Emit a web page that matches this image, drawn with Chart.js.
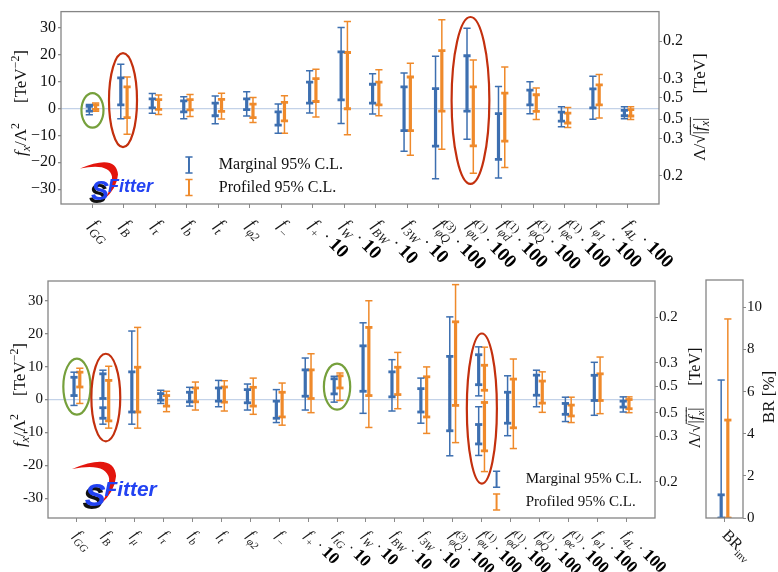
<!DOCTYPE html>
<html><head><meta charset="utf-8">
<script src="https://cdn.jsdelivr.net/npm/chart.js@4.4.1/dist/chart.umd.min.js"></script>
<style>
html,body{margin:0;padding:0;background:#fff;}
#wrap{position:relative;width:778px;height:572px;overflow:hidden;background:#fff;}
.c{position:absolute;}
</style></head><body>
<div id="wrap">
<div class="c" style="left:0;top:0;width:778px;height:270px"><canvas id="top"></canvas></div>
<div class="c" style="left:0;top:270px;width:778px;height:302px"><canvas id="bot"></canvas></div>
<div class="c" style="left:680px;top:270px;width:98px;height:302px"><canvas id="br"></canvas></div>
</div>
<script>
// ---------------- DATA ----------------
// top panel categories (subscript, superscript, multiplier)
const topSubs  = ['GG','B','τ','b','t','φ2','−','+','W','BW','3W','φQ','φu','φd','φQ','φe','φ1','4L'];
const topSups  = ['','','','','','','','','','','','(3)','(1)','(1)','(1)','(1)','',''];
const topMults = ['','','','','','','','10','10','10','10','100','100','100','100','100','100','100'];
// intervals [low, high] per category (TeV^-2)
const topMarginal95 = [[[-2.3,1.5]],[[-3.8,16.4]],[[-1.8,5.6]],[[-3.8,4.4]],[[-5.7,4.6]],[[-2.8,6.2]],[[-9.2,1.7]],[[-1.7,14.0]],[[-5.6,30.1]],[[-2.1,12.9]],[[-15.9,13.2]],[[-26.1,19.4]],[[-11.4,29.8]],[[-25.8,8.2]],[[-1.95,9.9]],[[-6.8,0.6]],[[-4.0,12.0]],[[-3.8,0.6]]];
const topMarginal68 = [[[-1.0,0.8]],[[1.3,11.4]],[[0.2,3.6]],[[-1.3,2.8]],[[-2.7,2.0]],[[-0.4,3.6]],[[-6.2,-1.3]],[[2.0,9.8]],[[3.2,21.0]],[[2.0,9.0]],[[-8.2,8.0]],[[-14.0,7.4]],[[-1.0,19.6]],[[-18.9,-1.95]],[[1.3,6.8]],[[-4.7,-1.35]],[[0.2,7.3]],[[-2.7,-0.7]]];
const topProfiled95 = [[[-1.0,2.0]],[[-9.6,11.7]],[[-2.2,5.0]],[[-3.0,5.2]],[[-3.9,5.7]],[[-5.2,4.1]],[[-9.2,4.7]],[[-3.2,14.6]],[[-9.8,32.3]],[[-2.7,14.4]],[[-17.4,16.8]],[[-15.2,33.0]],[[-24.1,18.0]],[[-21.9,15.4]],[[-4.1,7.6]],[[-7.1,0.4]],[[-3.5,12.6]],[[-4.1,0.6]]];
const topProfiled68 = [[[-0.3,1.3]],[[-3.4,8.0]],[[-0.3,3.3]],[[-0.5,3.3]],[[-1.1,3.4]],[[-3.4,1.6]],[[-4.6,2.3]],[[2.6,11.1]],[[-0.1,20.8]],[[1.3,9.8]],[[-8.2,11.7]],[[-1.0,21.5]],[[-13.9,8.0]],[[-12.1,5.7]],[[-1.1,5.1]],[[-5.4,-1.7]],[[1.3,8.8]],[[-2.8,-0.4]]];

// bottom panel
const botSubs  = ['GG','B','μ','τ','b','t','φ2','−','+','tG','W','BW','3W','φQ','φu','φd','φQ','φe','φ1','4L'];
const botSups  = ['','','','','','','','','','','','','','(3)','(1)','(1)','(1)','(1)','',''];
const botMults = ['','','','','','','','','10','10','10','10','10','100','100','100','100','100','100','100'];
const botMarginal95 = [[[-1.8,8.3]],[[-7.5,8.9]],[[-7.5,20.8]],[[-1.2,2.8]],[[-2.0,3.7]],[[-2.2,5.8]],[[-3.2,4.7]],[[-7.0,3.0]],[[-3.2,12.6]],[[-0.8,7.05]],[[-4.2,23.3]],[[-3.5,12.1]],[[-7.2,6.5]],[[-17.1,25.1]],[[1.1,16.0],[-17.0,-2.2]],[[-11.0,7.2]],[[-2.2,8.9]],[[-6.7,0.7]],[[-4.8,11.3]],[[-3.8,0.8]]];
const botMarginal68 = [[[1.2,6.75]],[[0.3,7.8],[-5.7,-2.5]],[[-3.8,8.4]],[[-0.2,1.8]],[[-0.7,2.2]],[[-0.5,3.5]],[[-1.0,3.0]],[[-5.7,-0.5]],[[1.0,9.0]],[[1.7,6.3]],[[2.5,16.3]],[[0.8,8.4]],[[-3.8,3.3]],[[-9.5,13.1]],[[4.5,13.6],[-13.5,-7.6]],[[-7.2,2.2]],[[1.3,7.4]],[[-4.5,-1.2]],[[-0.3,7.35]],[[-2.3,-0.5]]];
const botProfiled95 = [[[-1.2,9.5]],[[-8.7,10.1]],[[-8.7,21.9]],[[-3.7,2.5]],[[-3.2,5.3]],[[-3.5,5.7]],[[-4.5,6.5]],[[-7.8,5.0]],[[-4.0,13.9]],[[-0.3,8.05]],[[-8.5,30.0]],[[-2.8,14.3]],[[-10.3,9.9]],[[-13.1,34.9]],[[-21.9,15.9]],[[-14.9,12.3]],[[-3.9,8.4]],[[-7.0,0.7]],[[-4.3,12.9]],[[-4.0,0.8]]];
const botProfiled68 = [[[3.8,8.3]],[[-6.5,5.8]],[[-3.8,9.8]],[[-2.0,1.2]],[[-0.7,3.5]],[[-0.8,3.8]],[[-2.0,3.7]],[[-5.3,2.2]],[[0.3,9.0]],[[3.5,7.2]],[[1.2,21.9]],[[1.5,9.8]],[[-5.3,6.9]],[[-1.8,23.6]],[[2.8,10.4],[-15.6,-0.9]],[[-8.6,6.2]],[[-1.1,5.6]],[[-5.0,-1.7]],[[-0.3,7.8]],[[-2.8,0.0]]];

// invisible branching ratio panel (%)
const brMarginal95 = [[[0,6.55]]];
const brMarginal68 = [[[0,1.1]]];
const brProfiled95 = [[[0,9.45]]];
const brProfiled68 = [[[0,4.65]]];

// tick values / labels
const leftTickValues  = [-30,-20,-10,0,10,20,30];
const rightTickValues = [25, 11.11, 4, -4, -11.11, -25];
const rightTickLabels = ['0.2','0.3','0.5','0.5','0.3','0.2'];
const brTickValues    = [0,2,4,6,8,10];
const legendLabels    = ['Marginal 95% C.L.','Profiled 95% C.L.'];

// ---------------- STYLE ----------------
const SERIF = '"Liberation Serif","DejaVu Serif","Times New Roman",serif';
const BLUE = '#3d6fb0', ORANGE = '#ef8a2b', GREEN = '#76a03c', RED = '#c3300e';
const IT = s => `italic ${s}px ${SERIF}`;
const RM = s => `${s}px ${SERIF}`;

function segPoints(list, off){
  const pts=[];
  list.forEach((ivs,i)=>ivs.forEach(([lo,hi])=>{pts.push({x:i+off,y:lo},{x:i+off,y:hi},{x:i+off,y:null});}));
  return pts;
}
function capPoints(list, off){
  const pts=[];
  list.forEach((ivs,i)=>ivs.forEach(([lo,hi])=>{pts.push({x:i+off,y:lo},{x:i+off,y:hi});}));
  return pts;
}
function errDatasets(l95, l68, off, color){
  return [
    {data:segPoints(l95,off), showLine:true, spanGaps:false, borderColor:color, borderWidth:1.5, pointRadius:0, backgroundColor:color},
    {data:segPoints(l68,off), showLine:true, spanGaps:false, borderColor:color, borderWidth:3.2, pointRadius:0, backgroundColor:color},
    {data:capPoints(l95,off), showLine:false, pointStyle:'line', pointRadius:3.6, pointBorderWidth:1.5, pointBorderColor:color, borderColor:color, backgroundColor:color},
    {data:capPoints(l68,off), showLine:false, pointStyle:'line', pointRadius:3.6, pointBorderWidth:2.8, pointBorderColor:color, borderColor:color, backgroundColor:color}
  ];
}

function drawRich(ctx, segs, x, y, ang, align, color){
  ctx.save(); ctx.translate(x,y); ctx.rotate(ang||0);
  let total=0, held=0; const pos=[];
  segs.forEach(s=>{
    ctx.font=s.f||RM(15);
    const w = s.gap!==undefined ? s.gap : ctx.measureText(s.t).width;
    s._w=w; pos.push(total);
    if(s.hold){held=w;} else {total+=Math.max(w,held); held=0;}
  });
  const off = align==='center' ? -total/2 : align==='right' ? -total : 0;
  ctx.textAlign='left'; ctx.textBaseline='alphabetic';
  segs.forEach((s,i)=>{
    if(s.gap!==undefined) return;
    ctx.font=s.f; ctx.fillStyle=s.c||color||'#111';
    ctx.fillText(s.t, off+pos[i], s.dy||0);
    if(s.ol!==undefined){
      ctx.strokeStyle=s.c||color||'#111'; ctx.lineWidth=0.9;
      ctx.beginPath(); ctx.moveTo(off+pos[i]-0.5, s.ol); ctx.lineTo(off+pos[i]+s._w+0.5, s.ol); ctx.stroke();
    }
  });
  ctx.restore();
}

function catSegs(sub, sup, mult, fs){
  const segs=[{t:'f', f:IT(fs)}];
  if(sup) segs.push({t:sup, f:RM(fs*0.68), dy:-fs*0.42, hold:true});
  segs.push({t:sub, f:IT(fs*0.72), dy:fs*0.3});
  if(mult){ segs.push({t:' · ', f:RM(fs)}); segs.push({t:mult, f:`bold ${Math.round(fs*1.12)}px ${SERIF}`, c:'#000'}); }
  return segs;
}

function drawLogo(ctx, x, y, s){
  ctx.save(); ctx.translate(x,y); ctx.scale(s,s);
  ctx.fillStyle='#e3150d';
  ctx.beginPath(); ctx.moveTo(0,7);
  ctx.quadraticCurveTo(36,-8,38,13); ctx.quadraticCurveTo(37,27,24,38);
  ctx.quadraticCurveTo(33,26,32,15); ctx.quadraticCurveTo(29,1,0,7); ctx.fill();
  ctx.font='italic bold 27px "Liberation Sans","DejaVu Sans",sans-serif';
  ctx.fillStyle='#111'; ctx.fillText('S', 9, 34);
  ctx.fillStyle='#2343f2'; ctx.fillText('S', 11, 31);
  ctx.font='italic bold 18px "Liberation Sans","DejaVu Sans",sans-serif';
  ctx.fillText('Fitter', 28, 25);
  ctx.restore();
}

function decor(P){
  return {
    id:'decor_'+P.id,
    afterDatasetsDraw(chart){
      const ctx=chart.ctx, a=chart.chartArea, xs=chart.scales.x, ys=chart.scales.y;
      ctx.save();
      ctx.beginPath(); ctx.rect(a.left,a.top,a.right-a.left,a.bottom-a.top); ctx.clip();
      (P.ellipses||[]).forEach(e=>{
        const cx=xs.getPixelForValue(e.x), cy=ys.getPixelForValue(e.y);
        const rx=Math.abs(xs.getPixelForValue(e.x+e.rx)-cx), ry=Math.abs(ys.getPixelForValue(e.y+e.ry)-cy);
        ctx.beginPath(); ctx.ellipse(cx,cy,rx,ry,0,0,Math.PI*2);
        ctx.strokeStyle=e.c; ctx.lineWidth=2.2; ctx.stroke();
      });
      ctx.restore();
    },
    afterDraw(chart){
      const ctx=chart.ctx, a=chart.chartArea, xs=chart.scales.x;
      ctx.save();
      ctx.strokeStyle='#858585'; ctx.lineWidth=1.3;
      ctx.strokeRect(a.left,a.top,a.right-a.left,a.bottom-a.top);
      // category labels
      P.labels.forEach((segs,i)=>{
        const px=xs.getPixelForValue(i);
        drawRich(ctx, segs, px+P.lblDx, a.bottom+P.lblDy, Math.PI/4, 'left', '#1a1a1a');
      });
      // axis titles
      (P.titles||[]).forEach(t=>drawRich(ctx, t.segs, t.x, t.y, -Math.PI/2, 'center', '#111'));
      // legend
      if(P.legend){
        const L=P.legend;
        L.rows.forEach((r,k)=>{
          const ix=a.left+L.ix*(a.right-a.left), tx=a.left+L.tx*(a.right-a.left);
          const cy=a.top+r.y*(a.bottom-a.top), h=L.h/2;
          ctx.strokeStyle=r.c; ctx.lineWidth=2;
          ctx.beginPath(); ctx.moveTo(ix,cy-h); ctx.lineTo(ix,cy+h); ctx.stroke();
          ctx.lineWidth=1.5; ctx.beginPath();
          ctx.moveTo(ix-3.6,cy-h); ctx.lineTo(ix+3.6,cy-h); ctx.moveTo(ix-3.6,cy+h); ctx.lineTo(ix+3.6,cy+h); ctx.stroke();
          ctx.font=RM(L.fs); ctx.fillStyle='#111'; ctx.textBaseline='middle'; ctx.textAlign='left';
          ctx.fillText(legendLabels[k], tx, cy);
        });
      }
      if(P.logo) drawLogo(ctx, a.left+P.logo.dx, a.top+P.logo.dy, P.logo.s);
      ctx.restore();
    }
  };
}

function buildPanel(canvasId, P){
  const datasets=[...errDatasets(P.m95,P.m68,-P.off,BLUE), ...errDatasets(P.p95,P.p68,P.off,ORANGE)];
  const tickFont={family:SERIF, size:P.fs};
  return new Chart(document.getElementById(canvasId), {
    type:'scatter',
    data:{datasets},
    options:{
      responsive:true, maintainAspectRatio:false, animation:false, events:[],
      layout:{padding:P.pad},
      plugins:{legend:{display:false}, tooltip:{enabled:false}},
      scales:{
        x:{type:'linear', min:-1, max:P.n, afterBuildTicks:s=>{s.ticks=Array.from({length:P.n},(_,i)=>({value:i}));},
           ticks:{display:false}, grid:{drawOnChartArea:false, drawTicks:true, tickLength:4, color:'#8a8a8a'},
           border:{display:false}, afterFit:s=>{s.height=P.xh;}},
        y:{type:'linear', position:'left', min:P.ymin, max:P.ymax,
           afterBuildTicks:s=>{s.ticks=leftTickValues.map(v=>({value:v}));},
           ticks:{font:tickFont, color:'#111', padding:2, callback:v=> v<0 ? P.minus+(-v) : String(v)},
           grid:{color:c=>(c.tick&&c.tick.value===0)?'#c3d2e8':'rgba(0,0,0,0)', lineWidth:1.3, tickColor:'#8a8a8a', tickLength:3},
           border:{display:false}, afterFit:s=>{s.width=P.lw;}},
        y2:{type:'linear', position:'right', min:P.ymin, max:P.ymax,
           afterBuildTicks:s=>{s.ticks=rightTickValues.map(v=>({value:v}));},
           ticks:{font:tickFont, color:'#111', padding:1, callback:(v,i)=>rightTickLabels[i]},
           grid:{drawOnChartArea:false, color:'#8a8a8a', tickColor:'#8a8a8a', tickLength:3},
           border:{display:false}, afterFit:s=>{s.width=P.rw;}}
      }
    },
    plugins:[decor(P)]
  });
}

function leftTitle(fs, gap){
  return [{t:'f',f:IT(fs)},{t:'x',f:IT(fs*0.7),dy:fs*0.25},{t:'/Λ',f:RM(fs)},{t:'2',f:RM(fs*0.7),dy:-fs*0.42},
          {gap:gap},{t:'[TeV',f:RM(fs)},{t:'−2',f:RM(fs*0.7),dy:-fs*0.42},{t:']',f:RM(fs)}];
}
function rightTitle(fs, gap){
  const ol=-fs*0.86;
  return [{t:'Λ/',f:RM(fs)},{t:'√',f:RM(fs)},{t:'|',f:RM(fs),ol},{t:'f',f:IT(fs),ol},{t:'x',f:IT(fs*0.7),dy:fs*0.25,ol},{t:'|',f:RM(fs),ol},
          {gap:gap},{t:'[TeV]',f:RM(fs)}];
}

// ---------------- TOP PANEL ----------------
buildPanel('top', {
  id:'top', n:topSubs.length, off:0.1, ymin:-35.5, ymax:36, fs:16, minus:'−',
  pad:{top:7,left:0,right:0,bottom:0}, lw:61, rw:119, xh:66,
  m95:topMarginal95, m68:topMarginal68, p95:topProfiled95, p68:topProfiled68,
  labels:topSubs.map((s,i)=>catSegs(s,topSups[i],topMults[i],17)), lblDx:-4, lblDy:22,
  titles:[{segs:leftTitle(17,20), x:26, y:103},{segs:rightTitle(17,24), x:705, y:107}],
  legend:{ix:0.214, tx:0.264, h:16, fs:16, rows:[{y:0.797,c:BLUE},{y:0.914,c:ORANGE}]},
  logo:{dx:19, dy:150, s:1},
  ellipses:[{x:0,y:-0.7,rx:0.35,ry:6.4,c:GREEN},{x:0.97,y:3.1,rx:0.445,ry:17.5,c:RED},{x:12.01,y:3.0,rx:0.6,ry:31,c:RED}]
});

// ---------------- BOTTOM PANEL ----------------
buildPanel('bot', {
  id:'bot', n:botSubs.length, off:0.1, ymin:-36, ymax:36, fs:15, minus:'-',
  pad:{top:9,left:0,right:0,bottom:0}, lw:48, rw:123, xh:54,
  m95:botMarginal95, m68:botMarginal68, p95:botProfiled95, p68:botProfiled68,
  labels:botSubs.map((s,i)=>catSegs(s,botSups[i],botMults[i],15)), lblDx:-4, lblDy:18,
  titles:[{segs:leftTitle(17,18), x:25, y:395-270},{segs:rightTitle(16,22), x:700, y:398-270}],
  legend:{ix:0.739, tx:0.787, h:16, fs:15, rows:[{y:0.837,c:BLUE},{y:0.932,c:ORANGE}]},
  logo:{dx:24, dy:180, s:1.16},
  ellipses:[{x:0,y:3.9,rx:0.47,ry:8.5,c:GREEN},{x:1.0,y:0.6,rx:0.5,ry:13.3,c:RED},{x:9.0,y:3.9,rx:0.455,ry:7.0,c:GREEN},{x:14.01,y:-2.75,rx:0.52,ry:22.8,c:RED}]
});

// ---------------- BR PANEL ----------------
(function(){
  const off=0.18;
  const datasets=[...errDatasets(brMarginal95,brMarginal68,-off,BLUE), ...errDatasets(brProfiled95,brProfiled68,off,ORANGE)];
  const P={id:'br', labels:[[{t:'BR',f:RM(16)},{t:'inv',f:RM(11),dy:4}]], lblDx:-3, lblDy:18,
           titles:[{segs:[{t:'BR [%]',f:RM(17)}], x:774-680, y:397-270}]};
  new Chart(document.getElementById('br'), {
    type:'scatter', data:{datasets},
    options:{
      responsive:true, maintainAspectRatio:false, animation:false, events:[],
      layout:{padding:{top:9,left:26,right:0,bottom:0}},
      plugins:{legend:{display:false}, tooltip:{enabled:false}},
      scales:{
        x:{type:'linear', min:-1, max:1, afterBuildTicks:s=>{s.ticks=[{value:0}];}, ticks:{display:false},
           grid:{drawOnChartArea:false, tickLength:4, color:'#8a8a8a'}, border:{display:false}, afterFit:s=>{s.height=54;}},
        y:{type:'linear', position:'right', min:0, max:11.3, afterBuildTicks:s=>{s.ticks=brTickValues.map(v=>({value:v}));},
           ticks:{font:{family:SERIF,size:15}, color:'#111', padding:1},
           grid:{drawOnChartArea:false, color:'#8a8a8a', tickLength:3}, border:{display:false}, afterFit:s=>{s.width=35;}}
      }
    },
    plugins:[decor(P)]
  });
})();
</script>
</body></html>
